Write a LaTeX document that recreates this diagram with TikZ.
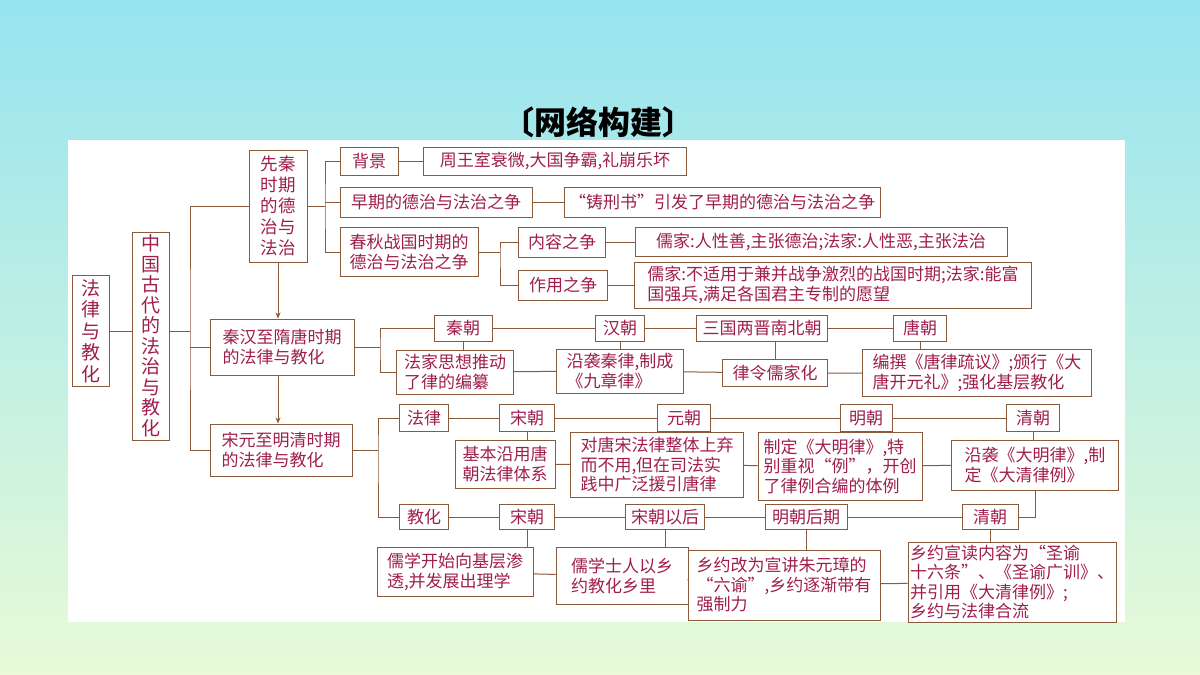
\documentclass[tikz,border=0pt]{standalone}
\usepackage{fontspec}
\setmainfont{Noto Sans CJK SC}
\usetikzlibrary{arrows.meta}
\definecolor{bord}{HTML}{8A5A3C}
\definecolor{txt}{HTML}{A01E4E}
\begin{document}
\begin{tikzpicture}[x=1pt,y=-1pt,
  bx/.style={draw=bord,line width=1pt,fill=white,text=txt,inner sep=2pt,align=left,
    font=\fontsize{17}{19.5}\selectfont},
  vt/.style={font=\fontsize{19}{20.5}\selectfont,align=center},
  ln/.style={draw=bord,line width=1pt},
  ar/.style={ln,-{Stealth[length=6pt,width=5pt]}}]
\useasboundingbox (0,0) rectangle (1200,675);
\shade[top color={rgb,255:red,150;green,228;blue,240},bottom color={rgb,255:red,232;green,250;blue,215}] (0,0) rectangle (1200,675);
\fill[white] (68,140) rectangle (1125,622);
\node[font=\fontsize{32}{34}\selectfont\bfseries] (title) at (598,122) {〔网络构建〕};
\newcommand\B[7][]{\node[bx,minimum width=#5,minimum height=#6,#1] (#2) at (#3,#4) {#7};}
\B[vt,font=\fontsize{19}{21.5}\selectfont]{fl}{91}{331}{37}{111}{法\\律\\与\\教\\化}
\B[vt]{zg}{151}{336}{37}{208}{中\\国\\古\\代\\的\\法\\治\\与\\教\\化}
\B[font=\fontsize{17.5}{21}\selectfont]{xq}{278}{206}{58}{112}{先秦\\时期\\的德\\治与\\法治}
\B{bj}{369}{161}{58}{28}{背景}
\B{zw}{555}{161}{263}{28}{周王室衰微,大国争霸,礼崩乐坏}
\B{zq}{436}{202}{192}{30}{早期的德治与法治之争}
\B{zx}{722}{202}{316}{30}{“铸刑书”引发了早期的德治与法治之争}
\B{cq}{409}{252}{138}{49}{春秋战国时期的\\德治与法治之争}
\B{nr}{562}{242}{87}{30}{内容之争}
\B{nrt}{821}{242}{372}{29}{儒家:人性善,主张德治;法家:人性恶,主张法治}
\B{zy}{563}{285}{89}{30}{作用之争}
\B{zyt}{833}{285}{397}{46}{儒家:不适用于兼并战争激烈的战国时期;法家:能富\\国强兵,满足各国君主专制的愿望}
\B{qh}{282}{347}{144}{56}{秦汉至隋唐时期\\的法律与教化}
\B{qc}{463}{328}{58}{26}{秦朝}
\B{qct}{455}{372}{117}{44}{法家思想推动\\了律的编纂}
\B{hc}{620}{328}{49}{26}{汉朝}
\B{hct}{620}{371}{127}{44}{沿袭秦律,制成\\《九章律》}
\B{sg}{762}{328}{131}{26}{三国两晋南北朝}
\B{sgt}{775}{373}{105}{27}{律令儒家化}
\B{tc}{920}{328}{53}{26}{唐朝}
\B{tct}{977}{373}{229}{47}{编撰《唐律疏议》;颁行《大\\唐开元礼》;强化基层教化}
\B{sy}{281}{450}{142}{52}{宋元至明清时期\\的法律与教化}
\B{law}{424}{418}{49}{27}{法律}
\B{lsong}{527}{418}{55}{27}{宋朝}
\B{lyuan}{684}{418}{53}{27}{元朝}
\B{lming}{866}{418}{52}{27}{明朝}
\B{lqing}{1033}{418}{53}{27}{清朝}
\B{lsongt}{505}{464}{100}{48}{基本沿用唐\\朝法律体系}
\B{lyuant}{657}{465}{173}{65}{对唐宋法律整体上弃\\而不用,但在司法实\\践中广泛援引唐律}
\B{lmingt}{840}{466}{164}{68}{制定《大明律》,特\\别重视“例”，开创\\了律例合编的体例}
\B{lqingt}{1035}{465}{167}{50}{沿袭《大明律》,制\\定《大清律例》}
\B{edu}{424}{517}{49}{25}{教化}
\B{esong}{527}{517}{55}{25}{宋朝}
\B{ehou}{665}{517}{79}{25}{宋朝以后}
\B{eming}{806}{517}{82}{25}{明朝后期}
\B{eqing}{990}{517}{56}{25}{清朝}
\B{esongt}{455}{572}{156}{49}{儒学开始向基层渗\\透,并发展出理学}
\B{ehout}{622}{576}{132}{57}{儒学士人以乡\\约教化乡里}
\B{emingt}{784}{585}{192}{70}{乡约改为宣讲朱元璋的\\“六谕”,乡约逐渐带有\\强制力}
\B{eqingt}{1012}{582}{205}{80}{乡约宣读内容为“圣谕\\十六条”、《圣谕广训》、\\并引用《大清律例》;\\乡约与法律合流}
% connectors
\draw[ln] (fl.east|-0,331) -- (zg.west|-0,331);
\draw[ln] (zg.east|-0,331) -- (190,331);
\draw[ln] (xq.west) -| (190,331) |- (sy.west);
\draw[ln] (190,347) -- (qh.west);
\draw[ar] (xq.south) -- (qh.north-|xq.south);
\draw[ar] (qh.south-|xq.south) -- (sy.north-|xq.south);
\draw[ln] (xq.east) -- (325,206);
\draw[ln] (bj.west) -| (325,206) |- (cq.west);
\draw[ln] (325,202) -- (zq.west);
\draw[ln] (bj) -- (zw); \draw[ln] (zq) -- (zx);
\draw[ln] (cq.east) -- (500,252);
\draw[ln] (nr.west) -| (500,252) |- (zy.west);
\draw[ln] (nr) -- (nrt); \draw[ln] (zy) -- (zyt);
\draw[ln] (qh.east) -- (380,347);
\draw[ln] (qc.west) -| (380,347) |- (qct.west);
\draw[ln] (qc) -- (hc) -- (sg) -- (tc);
\draw[ln] (qct) -- (hct) -- (sgt) -- (tct);
\draw[ln] (qc) -- (qc|-qct.north);
\draw[ln] (hc) -- (hct);
\draw[ln] (sg.south-|sgt) -- (sgt);
\draw[ln] (tc.south) -- (tc.south|-tct.north);
\draw[ln] (sy.east) -- (378,450);
\draw[ln] (law.west) -| (378,450) |- (edu.west);
\draw[ln] (law) -- (lsong) -- (lyuan) -- (lming) -- (lqing);
\draw[ln] (lsongt) -- (lyuant) -- (lmingt) -- (lqingt);
\draw[ln] (lsong) -- (lsong|-lsongt.north);
\draw[ln] (lqing) -- (lqing|-lqingt.north);
\draw[ln] (lqingt.south) |- (eqing.east);
\draw[ln] (edu) -- (esong) -- (ehou) -- (eming) -- (eqing);
\draw[ln] (esongt) -- (ehout) -- (emingt) -- (eqingt);
\draw[ln] (esong.south) -- (esong.south|-esongt.north);
\draw[ln] (ehou.south) -- (ehou.south|-ehout.north);
\draw[ln] (eming.south) -- (eming.south|-emingt.north);
\draw[ln] (eqing.south) -- (eqing.south|-eqingt.north);
\end{tikzpicture}
\end{document}
